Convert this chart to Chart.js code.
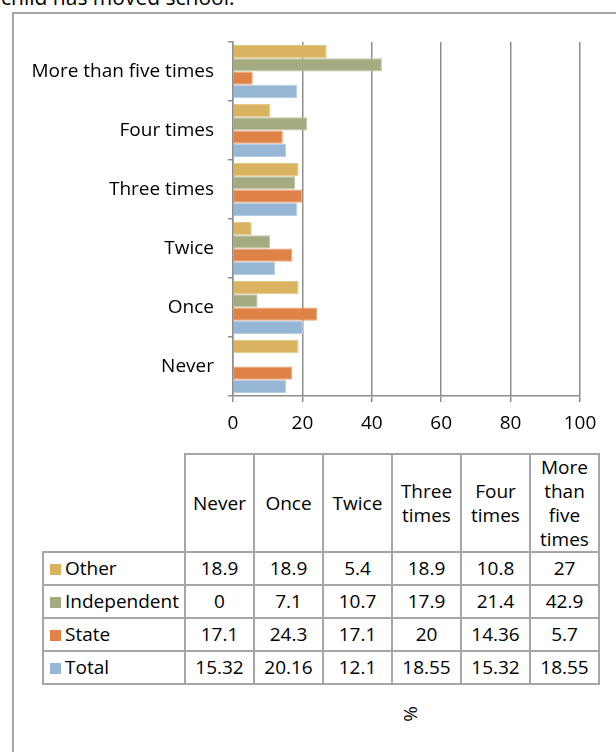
<!DOCTYPE html>
<html>
<head>
<meta charset="utf-8">
<script src="https://cdn.jsdelivr.net/npm/chart.js@4"></script>
<style>
  body { margin: 0; background: #fff; width: 616px; height: 752px; overflow: hidden; position: relative; font-family: "Open Sans", sans-serif; }
  #heading { position: absolute; left: 1px; top: -13px; font-size: 21px; line-height: 20px; font-family: "Open Sans", sans-serif; color: #000; white-space: nowrap; }
  #frame { position: absolute; left: 12px; top: 12px; width: 700px; height: 800px; border: 2px solid #a6a6a6; box-sizing: border-box; }
  #myChart { position: absolute; left: 0; top: 0; }
  #dataTable { position: absolute; left: 42px; top: 453px; border-collapse: collapse; table-layout: fixed; font-size: 19px; color: #000; }
  #dataTable td { border: 2px solid #a6a6a6; text-align: center; padding: 0; height: 31px; line-height: 27px; width: 67px; overflow: hidden; white-space: nowrap; }
  #dataTable tr.head td { height: 95px; line-height: 24px; }
  #dataTable td.blank { border-top: none; border-left: none; }
  #dataTable td.name { text-align: left; width: 134px; padding-left: 6px; }
  .key { display: inline-block; width: 11px; height: 11px; margin-right: 4px; vertical-align: 0px; }
  #unit { position: absolute; left: 402px; top: 701px; font-size: 19px; transform: rotate(-90deg); }
</style>
</head>
<body>
<div id="heading">child has moved school.</div>
<div id="frame"></div>
<canvas id="myChart" width="616" height="450"></canvas>
<table id="dataTable"></table>
<div id="unit">%</div>
<script>
const categories = ['Never', 'Once', 'Twice', 'Three times', 'Four times', 'More than five times'];
const headLabels = ['Never', 'Once', 'Twice', 'Three<br>times', 'Four<br>times', 'More<br>than<br>five<br>times'];
const seriesNames = ['Other', 'Independent', 'State', 'Total'];
const otherValues = [18.9, 18.9, 5.4, 18.9, 10.8, 27];
const independentValues = [0, 7.1, 10.7, 17.9, 21.4, 42.9];
const stateValues = [17.1, 24.3, 17.1, 20, 14.36, 5.7];
const totalValues = [15.32, 20.16, 12.1, 18.55, 15.32, 18.55];
const xTicks = [0, 20, 40, 60, 80, 100];

const colors = ['#d9b35f', '#a5ab80', '#de8246', '#95b6d5'];
const edges = ['#e6c98a', '#bfc4a2', '#eda57a', '#b7cde3'];
const series = [otherValues, independentValues, stateValues, totalValues];

const font = { family: '"Open Sans", sans-serif', size: 19 };

let plot = () => {
  const ctx = document.getElementById('myChart');
  const dataset = {
    labels: categories,
    datasets: series.map((vals, i) => ({
      label: seriesNames[i],
      data: vals,
      backgroundColor: colors[i],
      borderColor: edges[i],
      borderWidth: 1,
      categoryPercentage: 0.9,
      barPercentage: 1
    }))
  };
  const config = {
    type: 'bar',
    data: dataset,
    options: {
      responsive: false,
      animation: false,
      indexAxis: 'y',
      layout: { padding: { top: 42, right: 36, left: 0, bottom: 0 } },
      plugins: { legend: { display: false }, tooltip: { enabled: false } },
      scales: {
        x: {
          min: 0, max: 100,
          afterBuildTicks: (s) => { s.ticks = xTicks.map(v => ({ value: v })); },
          afterFit: (s) => { s.height = 54; },
          ticks: { color: '#000', font: font, padding: 10, maxRotation: 0 },
          grid: { color: '#8e8e8e', lineWidth: 1.5, tickLength: 6 },
          border: { color: '#8e8e8e', width: 1.5 }
        },
        y: {
          reverse: true,
          afterFit: (s) => { s.width = 233; },
          ticks: { color: '#000', font: font, padding: 14 },
          grid: { drawOnChartArea: false, color: '#8e8e8e', lineWidth: 1.5, tickLength: 5 },
          border: { color: '#8e8e8e', width: 1.5 }
        }
      }
    }
  };
  new Chart(ctx, config);
};

let loadTable = () => {
  const table = document.getElementById('dataTable');
  let html = '<tr class="head"><td class="blank"></td>';
  headLabels.forEach(h => { html += '<td>' + h + '</td>'; });
  html += '</tr>';
  seriesNames.forEach((name, i) => {
    html += '<tr><td class="name"><span class="key" style="background:' + colors[i] + '"></span>' + name + '</td>';
    series[i].forEach(v => { html += '<td>' + v + '</td>'; });
    html += '</tr>';
  });
  table.innerHTML = html;
};

plot();
loadTable();
</script>
</body>
</html>
